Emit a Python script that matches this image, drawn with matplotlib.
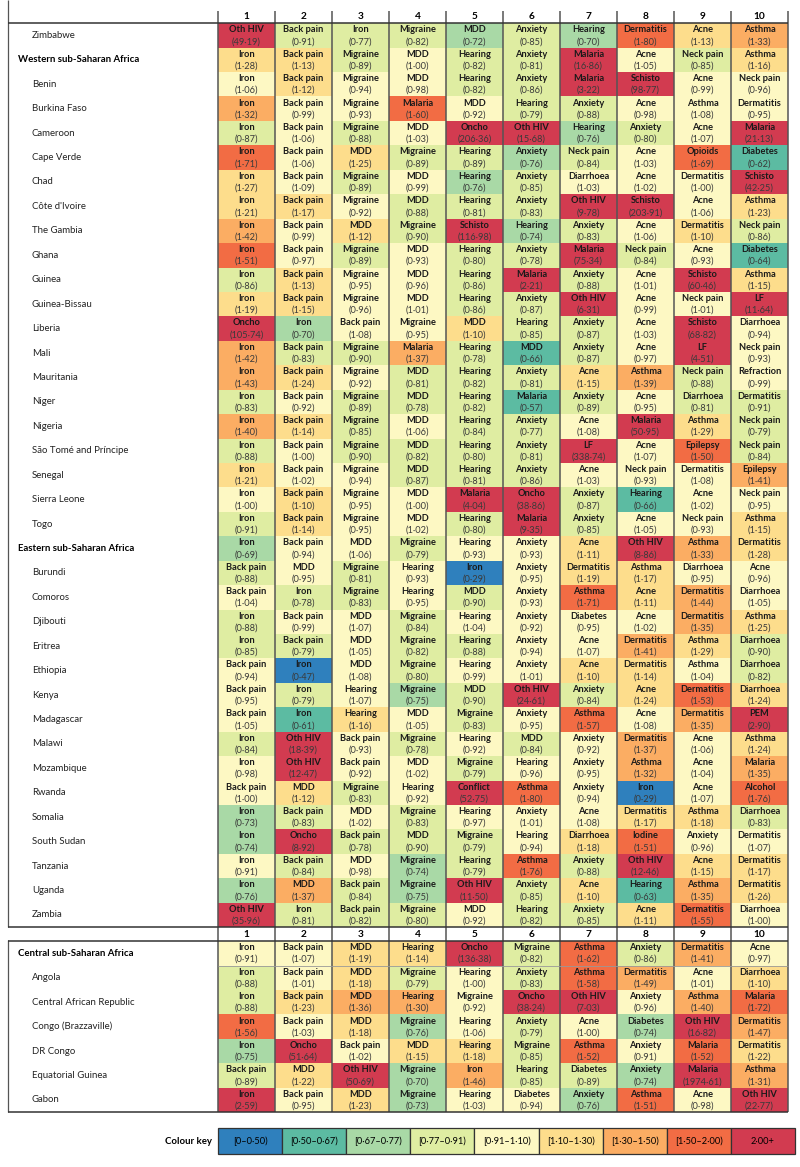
import numpy as np
from matplotlib import pyplot as plt
from matplotlib.colors import ListedColormap, BoundaryNorm
from matplotlib.patches import Rectangle

plt.rcParams['font.family'] = ['Lato', 'DejaVu Sans']

# rows of the table (first block ends with Zambia, second block is Central SSA)
locations = [
    "Zimbabwe", "Western sub-Saharan Africa", "Benin", "Burkina Faso", "Cameroon",
    "Cape Verde", "Chad", "Côte d'Ivoire", "The Gambia", "Ghana", "Guinea",
    "Guinea-Bissau", "Liberia", "Mali", "Mauritania", "Niger", "Nigeria",
    "São Tomé and Príncipe", "Senegal", "Sierra Leone", "Togo",
    "Eastern sub-Saharan Africa", "Burundi", "Comoros", "Djibouti", "Eritrea",
    "Ethiopia", "Kenya", "Madagascar", "Malawi", "Mozambique", "Rwanda", "Somalia",
    "South Sudan", "Tanzania", "Uganda", "Zambia",
    "Central sub-Saharan Africa", "Angola", "Central African Republic",
    "Congo (Brazzaville)", "DR Congo", "Equatorial Guinea", "Gabon",
]
regions = ["Western sub-Saharan Africa", "Eastern sub-Saharan Africa",
           "Central sub-Saharan Africa"]

causes = [
    ["Oth HIV", "Back pain", "Iron", "Migraine", "MDD", "Anxiety", "Hearing", "Dermatitis", "Acne", "Asthma"],
    ["Iron", "Back pain", "Migraine", "MDD", "Hearing", "Anxiety", "Malaria", "Acne", "Neck pain", "Asthma"],
    ["Iron", "Back pain", "Migraine", "MDD", "Hearing", "Anxiety", "Malaria", "Schisto", "Acne", "Neck pain"],
    ["Iron", "Back pain", "Migraine", "Malaria", "MDD", "Hearing", "Anxiety", "Acne", "Asthma", "Dermatitis"],
    ["Iron", "Back pain", "Migraine", "MDD", "Oncho", "Oth HIV", "Hearing", "Anxiety", "Acne", "Malaria"],
    ["Iron", "Back pain", "MDD", "Migraine", "Hearing", "Anxiety", "Neck pain", "Acne", "Opioids", "Diabetes"],
    ["Iron", "Back pain", "Migraine", "MDD", "Hearing", "Anxiety", "Diarrhoea", "Acne", "Dermatitis", "Schisto"],
    ["Iron", "Back pain", "Migraine", "MDD", "Hearing", "Anxiety", "Oth HIV", "Schisto", "Acne", "Asthma"],
    ["Iron", "Back pain", "MDD", "Migraine", "Schisto", "Hearing", "Anxiety", "Acne", "Dermatitis", "Neck pain"],
    ["Iron", "Back pain", "Migraine", "MDD", "Hearing", "Anxiety", "Malaria", "Neck pain", "Acne", "Diabetes"],
    ["Iron", "Back pain", "Migraine", "MDD", "Hearing", "Malaria", "Anxiety", "Acne", "Schisto", "Asthma"],
    ["Iron", "Back pain", "Migraine", "MDD", "Hearing", "Anxiety", "Oth HIV", "Acne", "Neck pain", "LF"],
    ["Oncho", "Iron", "Back pain", "Migraine", "MDD", "Hearing", "Anxiety", "Acne", "Schisto", "Diarrhoea"],
    ["Iron", "Back pain", "Migraine", "Malaria", "Hearing", "MDD", "Anxiety", "Acne", "LF", "Neck pain"],
    ["Iron", "Back pain", "Migraine", "MDD", "Hearing", "Anxiety", "Acne", "Asthma", "Neck pain", "Refraction"],
    ["Iron", "Back pain", "Migraine", "MDD", "Hearing", "Malaria", "Anxiety", "Acne", "Diarrhoea", "Dermatitis"],
    ["Iron", "Back pain", "Migraine", "MDD", "Hearing", "Anxiety", "Acne", "Malaria", "Asthma", "Neck pain"],
    ["Iron", "Back pain", "Migraine", "MDD", "Hearing", "Anxiety", "LF", "Acne", "Epilepsy", "Neck pain"],
    ["Iron", "Back pain", "Migraine", "MDD", "Hearing", "Anxiety", "Acne", "Neck pain", "Dermatitis", "Epilepsy"],
    ["Iron", "Back pain", "Migraine", "MDD", "Malaria", "Oncho", "Anxiety", "Hearing", "Acne", "Neck pain"],
    ["Iron", "Back pain", "Migraine", "MDD", "Hearing", "Malaria", "Anxiety", "Acne", "Neck pain", "Asthma"],
    ["Iron", "Back pain", "MDD", "Migraine", "Hearing", "Anxiety", "Acne", "Oth HIV", "Asthma", "Dermatitis"],
    ["Back pain", "MDD", "Migraine", "Hearing", "Iron", "Anxiety", "Dermatitis", "Asthma", "Diarrhoea", "Acne"],
    ["Back pain", "Iron", "Migraine", "Hearing", "MDD", "Anxiety", "Asthma", "Acne", "Dermatitis", "Diarrhoea"],
    ["Iron", "Back pain", "MDD", "Migraine", "Hearing", "Anxiety", "Diabetes", "Acne", "Dermatitis", "Asthma"],
    ["Iron", "Back pain", "MDD", "Migraine", "Hearing", "Anxiety", "Acne", "Dermatitis", "Asthma", "Diarrhoea"],
    ["Back pain", "Iron", "MDD", "Migraine", "Hearing", "Anxiety", "Acne", "Dermatitis", "Asthma", "Diarrhoea"],
    ["Back pain", "Iron", "Hearing", "Migraine", "MDD", "Oth HIV", "Anxiety", "Acne", "Dermatitis", "Diarrhoea"],
    ["Back pain", "Iron", "Hearing", "MDD", "Migraine", "Anxiety", "Asthma", "Acne", "Dermatitis", "PEM"],
    ["Iron", "Oth HIV", "Back pain", "Migraine", "Hearing", "MDD", "Anxiety", "Dermatitis", "Acne", "Asthma"],
    ["Iron", "Oth HIV", "Back pain", "MDD", "Migraine", "Hearing", "Anxiety", "Asthma", "Acne", "Malaria"],
    ["Back pain", "MDD", "Migraine", "Hearing", "Conflict", "Asthma", "Anxiety", "Iron", "Acne", "Alcohol"],
    ["Iron", "Back pain", "MDD", "Migraine", "Hearing", "Anxiety", "Acne", "Dermatitis", "Asthma", "Diarrhoea"],
    ["Iron", "Oncho", "Back pain", "MDD", "Migraine", "Hearing", "Diarrhoea", "Iodine", "Anxiety", "Dermatitis"],
    ["Iron", "Back pain", "MDD", "Migraine", "Hearing", "Asthma", "Anxiety", "Oth HIV", "Acne", "Dermatitis"],
    ["Iron", "MDD", "Back pain", "Migraine", "Oth HIV", "Anxiety", "Acne", "Hearing", "Asthma", "Dermatitis"],
    ["Oth HIV", "Iron", "Back pain", "Migraine", "MDD", "Hearing", "Anxiety", "Acne", "Dermatitis", "Diarrhoea"],
    ["Iron", "Back pain", "MDD", "Hearing", "Oncho", "Migraine", "Asthma", "Anxiety", "Dermatitis", "Acne"],
    ["Iron", "Back pain", "MDD", "Migraine", "Hearing", "Anxiety", "Asthma", "Dermatitis", "Acne", "Diarrhoea"],
    ["Iron", "Back pain", "MDD", "Hearing", "Migraine", "Oncho", "Oth HIV", "Anxiety", "Asthma", "Malaria"],
    ["Iron", "Back pain", "MDD", "Migraine", "Hearing", "Anxiety", "Acne", "Diabetes", "Oth HIV", "Dermatitis"],
    ["Iron", "Oncho", "Back pain", "MDD", "Hearing", "Migraine", "Asthma", "Anxiety", "Malaria", "Dermatitis"],
    ["Back pain", "MDD", "Oth HIV", "Migraine", "Iron", "Hearing", "Diabetes", "Anxiety", "Malaria", "Asthma"],
    ["Iron", "Back pain", "MDD", "Migraine", "Hearing", "Diabetes", "Anxiety", "Asthma", "Acne", "Oth HIV"],
]

ratios = [
    [49.19, 0.909, 0.77, 0.82, 0.72, 0.85, 0.70, 1.80, 1.13, 1.33],
    [1.28, 1.13, 0.89, 1.00, 0.82, 0.81, 16.86, 1.05, 0.85, 1.16],
    [1.06, 1.12, 0.94, 0.98, 0.82, 0.86, 3.22, 98.77, 0.99, 0.96],
    [1.32, 0.99, 0.93, 1.60, 0.92, 0.79, 0.88, 0.98, 1.08, 0.95],
    [0.87, 1.06, 0.88, 1.03, 206.36, 15.68, 0.76, 0.80, 1.07, 21.13],
    [1.71, 1.06, 1.25, 0.89, 0.89, 0.76, 0.84, 1.03, 1.69, 0.62],
    [1.27, 1.09, 0.89, 0.99, 0.76, 0.85, 1.03, 1.02, 1.00, 42.25],
    [1.21, 1.17, 0.92, 0.88, 0.81, 0.83, 9.78, 203.91, 1.06, 1.23],
    [1.42, 0.99, 1.12, 0.90, 116.98, 0.74, 0.83, 1.06, 1.10, 0.86],
    [1.51, 0.97, 0.89, 0.93, 0.80, 0.78, 75.34, 0.84, 0.93, 0.64],
    [0.86, 1.13, 0.95, 0.96, 0.86, 2.21, 0.88, 1.01, 60.46, 1.15],
    [1.19, 1.15, 0.96, 1.01, 0.86, 0.87, 6.31, 0.99, 1.01, 11.64],
    [105.74, 0.70, 1.08, 0.95, 1.10, 0.85, 0.87, 1.03, 68.82, 0.94],
    [1.42, 0.83, 0.90, 1.37, 0.78, 0.66, 0.87, 0.97, 4.51, 0.93],
    [1.43, 1.24, 0.92, 0.81, 0.82, 0.81, 1.15, 1.39, 0.88, 0.99],
    [0.83, 0.92, 0.89, 0.78, 0.82, 0.57, 0.89, 0.95, 0.81, 0.909],
    [1.40, 1.14, 0.85, 1.06, 0.84, 0.77, 1.08, 50.95, 1.29, 0.79],
    [0.88, 1.00, 0.90, 0.82, 0.80, 0.81, 338.74, 1.07, 1.50, 0.84],
    [1.21, 1.02, 0.94, 0.87, 0.81, 0.86, 1.03, 0.93, 1.08, 1.41],
    [1.00, 1.10, 0.95, 1.00, 4.04, 38.86, 0.87, 0.66, 1.02, 0.95],
    [0.909, 1.14, 0.95, 1.02, 0.80, 9.35, 0.85, 1.05, 0.93, 1.15],
    [0.69, 0.94, 1.06, 0.79, 0.93, 0.93, 1.11, 8.86, 1.33, 1.28],
    [0.88, 0.95, 0.81, 0.93, 0.29, 0.95, 1.19, 1.17, 0.95, 0.96],
    [1.04, 0.78, 0.83, 0.95, 0.90, 0.93, 1.71, 1.11, 1.44, 1.05],
    [0.88, 0.99, 1.07, 0.84, 1.04, 0.92, 0.95, 1.02, 1.35, 1.25],
    [0.85, 0.79, 1.05, 0.82, 0.88, 0.94, 1.07, 1.41, 1.29, 0.90],
    [0.94, 0.47, 1.08, 0.80, 0.99, 1.01, 1.10, 1.14, 1.04, 0.82],
    [0.95, 0.79, 1.07, 0.75, 0.90, 24.61, 0.84, 1.24, 1.53, 1.24],
    [1.05, 0.61, 1.16, 1.05, 0.83, 0.95, 1.57, 1.08, 1.35, 2.90],
    [0.84, 18.39, 0.93, 0.78, 0.92, 0.84, 0.92, 1.37, 1.06, 1.24],
    [0.98, 12.47, 0.92, 1.02, 0.79, 0.96, 0.95, 1.32, 1.04, 1.35],
    [1.00, 1.12, 0.83, 0.92, 52.75, 1.80, 0.94, 0.29, 1.07, 1.76],
    [0.73, 0.83, 1.02, 0.83, 0.97, 1.01, 1.08, 1.17, 1.18, 0.83],
    [0.74, 8.92, 0.78, 0.90, 0.79, 0.94, 1.18, 1.51, 0.96, 1.07],
    [0.91, 0.84, 0.98, 0.74, 0.79, 1.76, 0.88, 12.46, 1.15, 1.17],
    [0.76, 1.37, 0.84, 0.75, 11.50, 0.85, 1.10, 0.63, 1.35, 1.26],
    [35.96, 0.81, 0.82, 0.80, 0.92, 0.82, 0.85, 1.11, 1.55, 1.00],
    [0.91, 1.07, 1.19, 1.14, 136.38, 0.82, 1.62, 0.86, 1.41, 0.97],
    [0.88, 1.01, 1.18, 0.79, 1.00, 0.83, 1.58, 1.49, 1.01, 1.10],
    [0.88, 1.23, 1.36, 1.30, 0.92, 38.24, 7.03, 0.96, 1.40, 1.72],
    [1.56, 1.03, 1.18, 0.76, 1.06, 0.79, 1.00, 0.74, 16.82, 1.47],
    [0.75, 51.64, 1.02, 1.15, 1.18, 0.85, 1.52, 0.91, 1.52, 1.22],
    [0.89, 1.22, 50.69, 0.70, 1.46, 0.85, 0.89, 0.74, 1974.61, 1.31],
    [2.59, 0.95, 1.23, 0.73, 1.03, 0.94, 0.76, 1.51, 0.98, 22.77],
]

key_bounds = [0, 0.50, 0.67, 0.77, 0.91, 1.10, 1.30, 1.50, 2.00, 1e6]
key_labels = ["[0–0·50)", "[0·50–0·67)", "[0·67–0·77)", "[0·77–0·91)", "[0·91–1·10)",
              "[1·10–1·30)", "[1·30–1·50)", "[1·50–2·00)", "2·00+"]
key_colours = ["#2f80bd", "#5cbba2", "#a9d9a6", "#dfeda2", "#fdf8c3",
               "#fddd8c", "#fbad63", "#f26c44", "#d23b50"]

cmap = ListedColormap(key_colours)
norm = BoundaryNorm(key_bounds, cmap.N)

# page layout in pixels
left, x0, x1 = 8, 218, 788
row_h = 24.43
n_first = 37
top1 = 23.2
head2 = top1 + n_first * row_h
top2 = head2 + 14
col_edges = np.linspace(x0, x1, 11)
col_mid = (col_edges[:-1] + col_edges[1:]) / 2

fig = plt.figure(figsize=(8, 11.67), dpi=100)
ax = fig.add_axes([0, 0, 1, 1])
ax.set_xlim(0, 800)
ax.set_ylim(1167, 0)
ax.axis('off')

data = np.array(ratios)
blocks = [(0, n_first, top1), (n_first, len(locations), top2)]
row_tops = []
for start, stop, top in blocks:
    y_edges = top + np.arange(stop - start + 1) * row_h
    ax.pcolormesh(col_edges, y_edges, data[start:stop], cmap=cmap, norm=norm)
    row_tops += list(y_edges[:-1])

for i, name in enumerate(locations):
    yt = row_tops[i]
    ym = yt + row_h / 2
    if name in regions:
        ax.text(18, ym, name, ha='left', va='center', fontsize=6.9, fontweight='bold')
    else:
        ax.text(32, ym, name, ha='left', va='center', fontsize=6.9, color='#222222')
    for j in range(10):
        ax.text(col_mid[j], yt + 6.6, causes[i][j], ha='center', va='center',
                fontsize=6.7, fontweight='bold', color='#1a1a1a')
        val = f"({ratios[i][j]:.2f})".replace('.', '·')
        ax.text(col_mid[j], yt + 18.4, val, ha='center', va='center',
                fontsize=6.7, color='#3a3a3a')

# column numbers
for hy in [top1 - 6.3, head2 + 7]:
    for j in range(10):
        ax.text(col_mid[j], hy, str(j + 1), ha='center', va='center',
                fontsize=7.3, fontweight='bold')

line_c = '#555555'
ax.vlines(col_edges, 11, top2 + 7 * row_h, color=line_c, lw=1.1)
ax.vlines(left, 0, head2, color=line_c, lw=0.9)
ax.vlines(left, top2 - 1, top2 + 7 * row_h, color=line_c, lw=0.9)
ax.hlines([top1, head2, top2, top2 + 7 * row_h], left, x1, color='#333333', lw=1.1)
ax.hlines(top2 + row_h, x0, x1, color='#999999', lw=0.6)

# colour key
key_y, key_h = 1128, 26
key_w = (795 - x0) / len(key_labels)
ax.text(x0 - 6, key_y + key_h / 2, "Colour key", ha='right', va='center',
        fontsize=6.9, fontweight='bold')
for k, lab in enumerate(key_labels):
    kx = x0 + k * key_w
    ax.add_patch(Rectangle((kx, key_y), key_w, key_h, facecolor=key_colours[k],
                           edgecolor='#333333', lw=0.9))
    ax.text(kx + key_w / 2, key_y + key_h / 2, lab, ha='center', va='center', fontsize=6.7)

fig.savefig('out.png', dpi=100)
